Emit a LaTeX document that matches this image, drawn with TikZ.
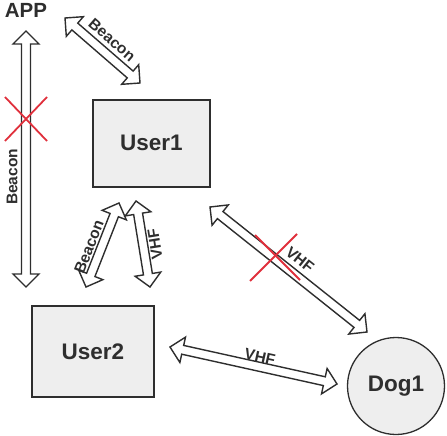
\documentclass[tikz,border=0pt]{standalone}
\usepackage{fontspec}
\usetikzlibrary{calc}
\newfontfamily\lbl{Liberation Sans Bold}
\definecolor{ink}{HTML}{2E2E2E}
\definecolor{boxfill}{HTML}{EEEEEE}
\definecolor{xred}{HTML}{E0303C}
\newcommand\ahl{13pt}
\newcommand\ahw{13pt}
\newcommand\asw{4.5pt}
\newcommand\dblarrow[2]{%
  \draw[dblarr] (#1)
   -- ($(#1)!\ahl!(#2)!\ahw!90:(#2)$)
   -- ($(#1)!\ahl!(#2)!\asw!90:(#2)$)
   -- ($(#2)!\ahl!(#1)!\asw!-90:(#1)$)
   -- ($(#2)!\ahl!(#1)!\ahw!-90:(#1)$)
   -- (#2)
   -- ($(#2)!\ahl!(#1)!\ahw!90:(#1)$)
   -- ($(#2)!\ahl!(#1)!\asw!90:(#1)$)
   -- ($(#1)!\ahl!(#2)!\asw!-90:(#2)$)
   -- ($(#1)!\ahl!(#2)!\ahw!-90:(#2)$)
   -- cycle;}
\begin{document}
\begin{tikzpicture}[x=1pt,y=-1pt,
  dblarr/.style={draw=ink, fill=white, line width=1.4pt, line join=miter},
  unit/.style={draw=ink, fill=boxfill, line width=1.6pt, text=ink,
    font=\lbl\fontsize{22.5}{22.5}\selectfont, inner sep=0pt},
  arrlabel/.style={text=ink, font=\lbl\fontsize{15.5}{15.5}\selectfont, inner sep=0pt},
  xmark/.style={draw=xred, line width=1.8pt}]
\useasboundingbox (0,0) rectangle (447,436);
\node[unit, minimum width=117pt, minimum height=87pt] (u1) at (151.3,143.3) {User1};
\node[unit, minimum width=122pt, minimum height=91pt] (u2) at (93,351.5) {User2};
\node[unit, circle, minimum size=97pt, line width=1.3pt] (d1) at (396,386) {Dog1};
\node[text=ink, font=\lbl\fontsize{20.5}{20.5}\selectfont, inner sep=0pt] (app) at (26,10) {APP};
% arrow end points
\coordinate (a1s) at (26,31);   \coordinate (a1e) at (26,287);
\coordinate (a2s) at (65,18);   \coordinate (a2e) at (140,83);
\coordinate (a3s) at (86,287);  \coordinate (a3e) at (119,203);
\coordinate (a4s) at (136,201); \coordinate (a4e) at (150,287);
\coordinate (a5s) at (210,207); \coordinate (a5e) at (367,332);
\coordinate (a6s) at (170,347); \coordinate (a6e) at (337,384);
\dblarrow{a1s}{a1e}
\dblarrow{a2s}{a2e}
\dblarrow{a3s}{a3e}
\dblarrow{a4s}{a4e}
\dblarrow{a5s}{a5e}
\dblarrow{a6s}{a6e}
% labels
\node[arrlabel, rotate=90] (l1) at (12,177) {Beacon};
\node[arrlabel, rotate=-41] (l2) at (112,40) {Beacon};
\node[arrlabel, rotate=68.6] (l3) at (89,247) {Beacon};
\node[arrlabel, rotate=99] (l4) at (155,244) {VHF};
\node[arrlabel, rotate=-38.5] (l5) at (300,260) {VHF};
\node[arrlabel, rotate=-12.5] (l6) at (260,357) {VHF};
% red crosses
\draw[xmark] (5,97) -- (47,141);
\draw[xmark] (47,97) -- (5,141);
\draw[xmark] (255,235) -- (300,280);
\draw[xmark] (297,234) -- (250,281);
\end{tikzpicture}
\end{document}
